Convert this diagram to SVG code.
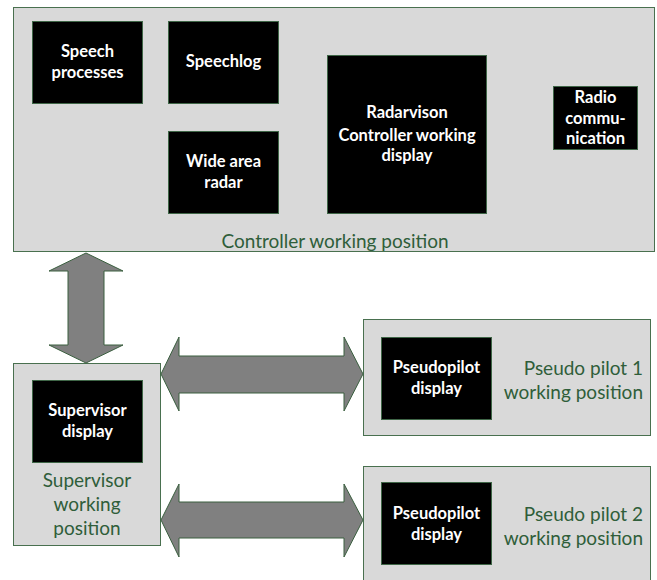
<svg xmlns="http://www.w3.org/2000/svg" width="657" height="580" viewBox="0 0 657 580">
<style>
.pos{fill:#d9d9d9;stroke:#49704f;stroke-width:1}
.dev{fill:#000;stroke:#3f6647;stroke-width:1}
.dt{fill:#fff;font-family:Lato,"Liberation Sans",sans-serif;font-weight:bold;font-size:16.5px;text-anchor:middle}
.lbl{fill:#2f5e3a;font-family:Lato,"Liberation Sans",sans-serif;font-size:19px}
.arr{fill:#808080;stroke:#3a5f3f;stroke-width:1}
</style>
<rect width="657" height="580" fill="#fff"/>
<g id="controller-working-position">
<rect class="pos" x="13.5" y="7.5" width="641" height="244"/>
<text class="lbl" x="335" y="248" text-anchor="middle">Controller working position</text>
</g>
<g id="speech-processes">
<rect class="dev" x="32.5" y="21.5" width="110" height="82"/>
<text class="dt" x="87.5" y="57">Speech</text>
<text class="dt" x="87.5" y="78">processes</text>
</g>
<g id="speechlog">
<rect class="dev" x="168.5" y="21.5" width="110" height="82"/>
<text class="dt" x="223.5" y="67">Speechlog</text>
</g>
<g id="wide-area-radar">
<rect class="dev" x="168.5" y="131.5" width="110" height="82"/>
<text class="dt" x="223.5" y="167">Wide area</text>
<text class="dt" x="223.5" y="188">radar</text>
</g>
<g id="radarvison">
<rect class="dev" x="327.5" y="55.5" width="159" height="158"/>
<text class="dt" x="407" y="118">Radarvison</text>
<text class="dt" x="407" y="141">Controller working</text>
<text class="dt" x="407" y="161">display</text>
</g>
<g id="radio-communication">
<rect class="dev" x="553.5" y="86.5" width="84" height="63"/>
<text class="dt" x="595.5" y="103">Radio</text>
<text class="dt" x="595.5" y="124">commu-</text>
<text class="dt" x="595.5" y="144">nication</text>
</g>
<g id="supervisor-working-position">
<rect class="pos" x="13.5" y="363.5" width="147" height="182"/>
<rect class="dev" x="32.5" y="380.5" width="110" height="82"/>
<text class="dt" x="87.5" y="416">Supervisor</text>
<text class="dt" x="87.5" y="437">display</text>
<text class="lbl" x="87" y="487" text-anchor="middle">Supervisor</text>
<text class="lbl" x="87" y="511" text-anchor="middle">working</text>
<text class="lbl" x="87" y="535" text-anchor="middle">position</text>
</g>
<g id="pseudo-pilot-1">
<rect class="pos" x="363.5" y="319.5" width="287" height="116"/>
<rect class="dev" x="381.5" y="337.5" width="110" height="82"/>
<text class="dt" x="436.5" y="373">Pseudopilot</text>
<text class="dt" x="436.5" y="394">display</text>
<text class="lbl" x="643" y="375" text-anchor="end">Pseudo pilot 1</text>
<text class="lbl" x="643" y="399" text-anchor="end">working position</text>
</g>
<g id="pseudo-pilot-2">
<rect class="pos" x="363.5" y="466.5" width="287" height="120"/>
<rect class="dev" x="381.5" y="482.5" width="110" height="82"/>
<text class="dt" x="436.5" y="519">Pseudopilot</text>
<text class="dt" x="436.5" y="540">display</text>
<text class="lbl" x="643" y="521" text-anchor="end">Pseudo pilot 2</text>
<text class="lbl" x="643" y="545" text-anchor="end">working position</text>
</g>
<g id="connectors">
<polygon class="arr" points="86,253 123,271 104,271 104,345 123,345 86,363 49,345 68,345 68,271 49,271"/>
<polygon class="arr" points="161,374 179,337 179,356 344,356 344,337 363,374 344,411 344,393 179,393 179,411"/>
<polygon class="arr" points="161,520 179,484 179,502 344,502 344,484 363,520 344,557 344,538 179,538 179,557"/>
</g>
</svg>
